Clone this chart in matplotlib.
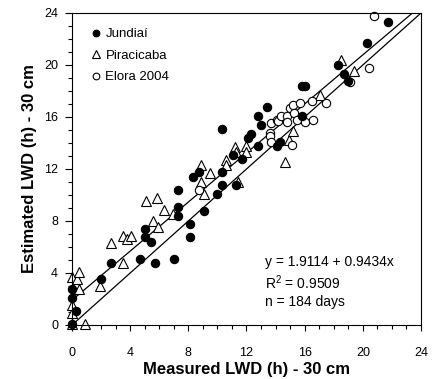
import numpy as np
import matplotlib as mpl
mpl.use('Agg')
import matplotlib.pyplot as plt  # noqa
from matplotlib.ticker import MultipleLocator  # noqa

plt.rcParams['font.family'] = ['Liberation Sans', 'DejaVu Sans']
plt.rcParams['mathtext.fontset'] = 'custom'
plt.rcParams['mathtext.rm'] = 'Liberation Sans'
plt.rcParams['mathtext.it'] = 'Liberation Sans'

# measured vs estimated leaf wetness duration (h), 30 cm
jundiai_x = [0.0, 0.0, 0.0, 0.3, 2.0, 2.7, 4.7, 5.7, 7.0, 5.0, 5.0, 5.4,
             7.3, 7.3, 7.3, 8.1, 8.1, 8.3, 8.7, 9.1, 10.0, 10.3, 10.3, 11.3,
             10.3, 11.1, 11.7, 12.1, 12.3, 12.8, 12.8, 13.0, 13.4, 14.1, 14.3,
             15.8, 16.0, 15.8, 18.3, 18.7, 19.0, 20.3, 21.7]
jundiai_y = [0.1, 2.8, 2.1, 1.1, 3.5, 4.8, 5.1, 4.8, 5.1, 7.4, 6.8, 6.4,
             10.4, 9.1, 8.4, 7.8, 6.8, 11.4, 11.8, 8.8, 10.1, 10.8, 11.8, 10.8,
             15.1, 13.1, 12.8, 14.4, 14.7, 13.8, 16.1, 15.4, 16.8, 13.8, 14.05,
             18.4, 18.4, 16.1, 20.0, 19.3, 18.8, 21.7, 23.3]

piracicaba_x = [0.0, 0.9, 0.0, 0.0, 0.5, 0.0, 0.35, 0.5, 1.9, 2.7, 3.5, 3.5,
                3.8, 4.05, 5.07, 5.87, 5.6, 5.9, 6.35, 6.97, 8.85, 8.85, 9.1,
                9.5, 10.6, 10.6, 11.4, 11.2, 11.3, 12.0, 12.0, 14.65, 14.9,
                15.2, 17.05, 18.5, 19.4]
piracicaba_y = [0.1, 0.05, 0.9, 1.5, 2.75, 3.7, 3.5, 4.05, 3.0, 6.3, 4.8, 6.85,
                6.6, 6.85, 9.56, 9.74, 8.0, 7.5, 8.85, 8.54, 12.3, 11.0, 10.05,
                11.7, 12.7, 12.3, 11.0, 13.7, 13.3, 13.8, 13.3, 12.5, 14.2,
                14.95, 17.7, 20.4, 19.5]

elora_x = [8.75, 13.6, 13.6, 13.7, 13.7, 14.1, 14.2, 14.4, 14.8, 14.8, 15.0,
           15.2, 15.3, 15.5, 15.7, 16.0, 16.5, 16.55, 17.5, 15.1, 19.1, 20.45,
           20.8]
elora_y = [10.4, 14.8, 14.5, 14.05, 15.55, 15.8, 15.7, 16.1, 16.1, 15.6, 16.7,
           16.9, 16.3, 15.8, 17.05, 15.6, 17.25, 15.8, 17.05, 13.85, 18.7, 19.8,
           23.8]

intercept = 1.9114
slope = 0.9434
r2 = 0.9509
n_days = 184

fig = plt.figure(figsize=(4.32, 3.79), dpi=100)
ax = fig.add_axes([0.1667, 0.1425, 0.8078, 0.8232])

xl = np.array([0, 24])
ax.plot(xl, xl, color='black', lw=0.9, zorder=1)
ax.plot(xl, intercept + slope * xl, color='black', lw=0.9, zorder=1)

ax.plot(jundiai_x, jundiai_y, 'o', ms=6, mfc='black', mec='black',
        mew=0.8, label='Jundiaí', zorder=3, clip_on=False)
ax.plot(piracicaba_x, piracicaba_y, '^', ms=6.5, mfc='white', mec='black',
        mew=0.8, label='Piracicaba', zorder=2, clip_on=False)
ax.plot(elora_x, elora_y, 'o', ms=6, mfc='white', mec='black',
        mew=0.8, label='Elora 2004', zorder=2, clip_on=False)

ax.set_xlim(0, 24)
ax.set_ylim(0, 24)
ax.xaxis.set_major_locator(MultipleLocator(4))
ax.xaxis.set_minor_locator(MultipleLocator(1))
ax.yaxis.set_major_locator(MultipleLocator(4))
ax.yaxis.set_minor_locator(MultipleLocator(1))
ax.tick_params(which='both', direction='out', top=False, right=False,
               labelsize=9, width=0.8)
ax.tick_params(axis='x', which='major', length=4, pad=12)
ax.tick_params(axis='y', which='major', length=5, pad=5)
ax.tick_params(which='minor', length=3)
for s in ax.spines.values():
    s.set_linewidth(0.8)

ax.set_xlabel('Measured LWD (h) - 30 cm', fontsize=12, fontweight='bold',
              labelpad=2)
ax.set_ylabel('Estimated LWD (h) - 30 cm', fontsize=12, fontweight='bold',
              labelpad=5)

ax.legend(loc='upper left', bbox_to_anchor=(0.02, 0.99), frameon=False,
          fontsize=9.5, handlelength=0.8, handletextpad=0.3,
          labelspacing=0.7, markerscale=0.8)

ax.text(13.3, 4.85, 'y = {} + {}x'.format(intercept, slope), fontsize=10,
        va='center', ha='left')
ax.text(13.3, 3.25, 'R$^2$ = {}'.format(r2), fontsize=10, va='center',
        ha='left')
ax.text(13.3, 1.75, 'n = {} days'.format(n_days), fontsize=10, va='center',
        ha='left')

fig.savefig('out.png', dpi=100)
